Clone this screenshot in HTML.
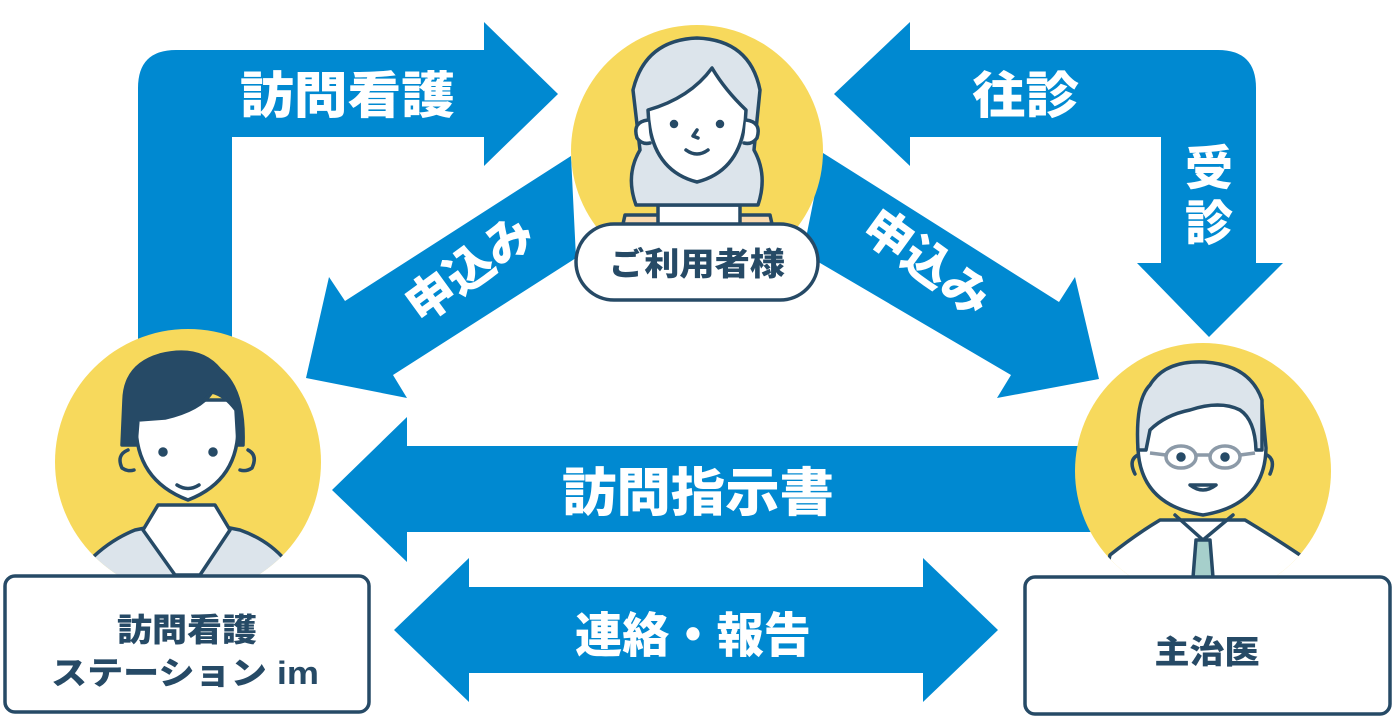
<!DOCTYPE html>
<html><head><meta charset="utf-8"><style>
html,body{margin:0;padding:0;background:#fff;}
svg{display:block;}
text{font-family:"Liberation Sans","Noto Sans CJK JP",sans-serif;font-weight:900;}
</style></head><body>
<svg width="1395" height="720" viewBox="0 0 1395 720" xmlns="http://www.w3.org/2000/svg">
<defs>
<clipPath id="cA"><circle cx="697" cy="151" r="126"/></clipPath>
<clipPath id="cB"><circle cx="188" cy="462" r="133"/></clipPath>
<clipPath id="cC"><circle cx="1203" cy="471" r="128"/></clipPath>
</defs>
<g fill="#0089d1">
<path d="M138 340 L138 88 Q138 50 176 50 L484 50 L484 22 L558 94 L484 166 L484 137 L232 137 L232 340 Z"/>
<path d="M910 22 L834 94 L910 166 L910 137 L1161 137 L1161 263 L1137 263 L1209 337 L1283 263 L1256 263 L1256 88 Q1256 50 1218 50 L910 50 Z"/>
<path d="M571 156 L345 301 L329 277 L306 378 L407 398 L393 375 L576 258 Z"/>
<path d="M823 153 L1059 302 L1075 277 L1099 379 L997 398 L1011 375 L803 253 Z"/>
<path d="M1100 446 L407 446 L407 417 L332 490 L407 562 L407 532 L1100 532 Z"/>
<path d="M394 630 L469 558 L469 587 L923 587 L923 558 L998 630 L923 702 L923 673 L469 673 L469 702 Z"/>
</g>
<g fill="#fff" font-size="50">
<text x="240" y="113" textLength="215" lengthAdjust="spacingAndGlyphs">訪問看護</text>
<text x="972" y="113" textLength="107" lengthAdjust="spacingAndGlyphs">往診</text>
<text x="1185" y="185" font-size="48">受</text>
<text x="1185" y="240" font-size="48">診</text>
<text x="562" y="511" font-size="52" textLength="272" lengthAdjust="spacingAndGlyphs">訪問指示書</text>
<text x="575" y="652" font-size="48" textLength="236" lengthAdjust="spacingAndGlyphs">連絡・報告</text>
<text transform="translate(472,272) rotate(-36)" font-size="48" text-anchor="middle" dominant-baseline="middle">申込み</text>
<text transform="translate(925,266) rotate(36)" font-size="48" text-anchor="middle" dominant-baseline="middle">申込み</text>
</g>

<!-- Grandma -->
<circle cx="697" cy="151" r="126" fill="#f7d95c"/>
<g clip-path="url(#cA)" stroke="#264a66" stroke-width="3.5" stroke-linecap="round" stroke-linejoin="round">
<path d="M615 260 L625 215 L770 215 L780 260 Z" fill="#fadaae"/>
<rect x="658" y="205" width="82" height="60" fill="#fff"/>
<path d="M636 205 Q625 175 640 150 L633 90 Q645 40 697 38 Q750 40 760 90 L754 150 Q768 175 758 205 Z" fill="#dce4eb"/>
<path d="M648 110 Q650 170 697 182 Q744 170 746 110 Q725 90 712 68 Q690 98 648 110 Z" fill="#fff"/>
<circle cx="674" cy="124" r="2.5" fill="#264a66"/><circle cx="720" cy="124" r="2.5" fill="#264a66"/>
<path d="M686 150 Q697 158 708 150" fill="none"/>
<path d="M697 130 L693 136 L698 138" fill="none"/>
<path d="M648 120 Q632 122 637 138 Q642 145 650 143 M746 120 Q762 122 757 138 Q752 145 744 143" fill="#fff"/>
</g>
<rect x="576" y="224" width="242" height="76" rx="38" fill="#fff" stroke="#264a66" stroke-width="3.5"/>
<text x="697" y="275" font-size="32" fill="#264a66" text-anchor="middle" textLength="176" lengthAdjust="spacingAndGlyphs">ご利用者様</text>

<!-- Nurse -->
<circle cx="188" cy="462" r="133" fill="#f7d95c"/>
<g clip-path="url(#cB)" stroke="#264a66" stroke-width="3.5" stroke-linecap="round" stroke-linejoin="round">
<path d="M90 560 Q110 540 135 530 L160 525 L215 525 L240 530 Q268 540 285 560 L300 600 L80 600 Z" fill="#dce4eb"/>
<path d="M143 530 L175 575 L200 575 L230 530 L215 505 L158 505 Z" fill="#fff"/>
<path d="M136 423 Q135 480 188 500 Q240 480 238 423 L236 400 L140 400 Z" fill="#fff"/>
<path d="M122 445 L124 400 Q125 365 160 355 Q200 345 220 370 Q245 390 243 445 L238 445 L236 410 Q225 395 212 392 Q200 410 165 418 L138 420 L136 445 Z" fill="#264a66"/>
<circle cx="163" cy="452" r="3" fill="#264a66"/><circle cx="213" cy="452" r="3" fill="#264a66"/>
<path d="M177 485 Q188 492 199 485" fill="none"/>
<path d="M128 450 Q116 455 122 468 Q128 472 134 470 M248 450 Q258 455 252 468 Q246 472 240 470" fill="none"/>
</g>
<rect x="5" y="576" width="364" height="136" rx="10" fill="#fff" stroke="#264a66" stroke-width="3.5"/>
<text x="187" y="641" font-size="32" fill="#264a66" text-anchor="middle" textLength="140" lengthAdjust="spacingAndGlyphs">訪問看護</text>
<text x="185" y="684" font-size="32" fill="#264a66" text-anchor="middle" textLength="268" lengthAdjust="spacingAndGlyphs">ステーション im</text>

<!-- Doctor -->
<circle cx="1203" cy="471" r="128" fill="#f7d95c"/>
<g clip-path="url(#cC)" stroke="#264a66" stroke-width="3.5" stroke-linecap="round" stroke-linejoin="round">
<path d="M1110 555 Q1135 535 1160 520 L1245 520 Q1270 535 1300 555 L1310 600 L1100 600 Z" fill="#fff"/>
<path d="M1175 515 L1203 540 L1233 515" fill="none"/>
<path d="M1196 540 L1210 540 L1214 590 L1192 590 Z" fill="#a6cfcb"/>
<path d="M1138 448 Q1140 505 1203 515 Q1265 505 1266 448 L1262 405 L1142 405 Z" fill="#fff"/>
<path d="M1138 450 Q1135 400 1150 385 Q1165 360 1205 362 Q1250 365 1262 400 L1262 450 L1256 450 Q1255 420 1240 410 Q1220 400 1190 410 Q1165 415 1150 430 L1146 450 Z" fill="#dce4eb"/>
<circle cx="1181" cy="457" r="3" fill="#264a66"/><circle cx="1225" cy="457" r="3" fill="#264a66"/>
<path d="M1190 485 Q1203 495 1216 485 Z" fill="#fff"/>
<path d="M1138 455 Q1128 460 1135 474 M1267 455 Q1276 460 1270 474" fill="none"/>
</g>
<g fill="none" stroke="#8c9aa8" stroke-width="3.5">
<ellipse cx="1181" cy="457" rx="15" ry="11"/><ellipse cx="1225" cy="457" rx="15" ry="11"/>
<path d="M1196 455 L1210 455 M1150 453 L1166 455 M1240 455 L1255 453"/>
</g>
<rect x="1025" y="577" width="365" height="137" rx="10" fill="#fff" stroke="#264a66" stroke-width="3.5"/>
<text x="1207" y="663" font-size="32" fill="#264a66" text-anchor="middle" textLength="105" lengthAdjust="spacingAndGlyphs">主治医</text>
</svg>
</body></html>
